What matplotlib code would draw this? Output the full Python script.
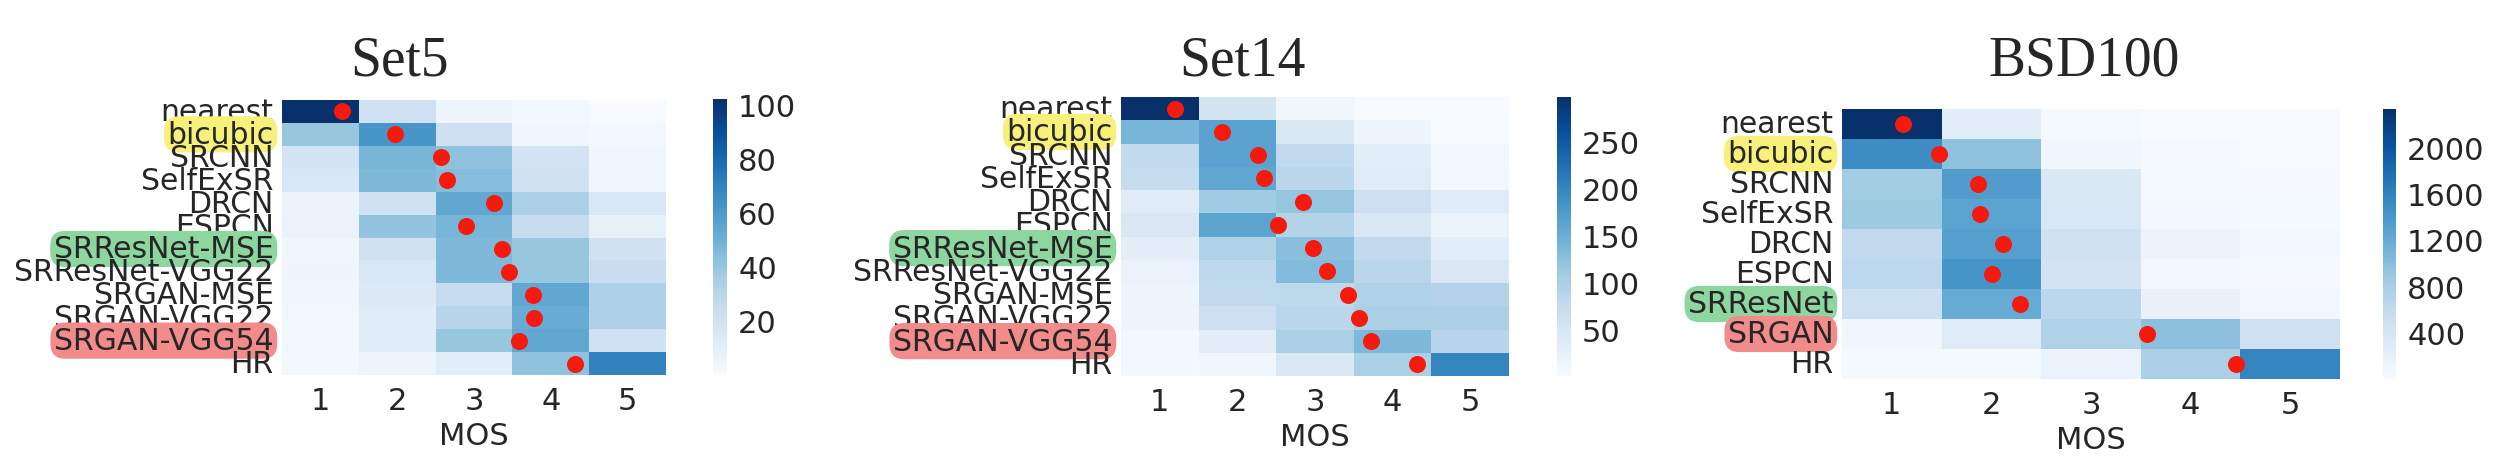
import matplotlib.pyplot as plt
import seaborn as sns
import numpy as np

# rows of the heatmaps (methods) and the MOS columns
methods_set = ['nearest', 'bicubic', 'SRCNN', 'SelfExSR', 'DRCN', 'ESPCN',
               'SRResNet-MSE', 'SRResNet-VGG22', 'SRGAN-MSE', 'SRGAN-VGG22',
               'SRGAN-VGG54', 'HR']
methods_bsd = ['nearest', 'bicubic', 'SRCNN', 'SelfExSR', 'DRCN', 'ESPCN',
               'SRResNet', 'SRGAN', 'HR']
mos_scores = [1, 2, 3, 4, 5]

# number of ratings per score
set5_counts = [
    [102, 21, 5, 2, 0],
    [40, 62, 22, 4, 2],
    [18, 48, 42, 18, 4],
    [16, 46, 44, 20, 4],
    [6, 20, 54, 34, 16],
    [7, 41, 48, 25, 9],
    [4, 20, 46, 40, 20],
    [5, 16, 46, 40, 23],
    [4, 14, 25, 54, 33],
    [3, 12, 30, 52, 33],
    [3, 12, 40, 54, 21],
    [2, 5, 11, 42, 70],
]
set14_counts = [
    [298, 54, 12, 0, 0],
    [140, 165, 45, 14, 0],
    [78, 165, 80, 33, 8],
    [72, 160, 85, 37, 10],
    [36, 110, 118, 65, 35],
    [46, 162, 92, 45, 19],
    [30, 95, 128, 78, 33],
    [20, 82, 132, 86, 44],
    [16, 80, 82, 95, 91],
    [14, 65, 85, 100, 100],
    [8, 32, 100, 135, 89],
    [6, 12, 44, 100, 202],
]
bsd100_counts = [
    [2330, 230, 40, 0, 0],
    [1500, 970, 100, 30, 0],
    [840, 1350, 350, 45, 15],
    [880, 1280, 370, 50, 20],
    [620, 1320, 460, 140, 60],
    [650, 1420, 430, 70, 30],
    [500, 1200, 660, 170, 70],
    [90, 300, 740, 980, 490],
    [40, 40, 160, 780, 1580],
]

# mean opinion scores (red dots)
set5_mos = [1.28, 1.97, 2.57, 2.65, 3.26, 2.89, 3.37, 3.46, 3.77, 3.78, 3.58, 4.32]
set14_mos = [1.20, 1.80, 2.26, 2.34, 2.84, 2.52, 2.98, 3.15, 3.43, 3.57, 3.72, 4.32]
bsd100_mos = [1.11, 1.47, 1.87, 1.89, 2.12, 2.01, 2.29, 3.56, 4.46]

cbar_ticks_set5 = [20, 40, 60, 80, 100]
cbar_ticks_set14 = [50, 100, 150, 200, 250]
cbar_ticks_bsd100 = [400, 800, 1200, 1600, 2000]

highlights = {'bicubic': '#f7f07a', 'SRResNet-MSE': '#8ed6a0',
              'SRResNet': '#8ed6a0', 'SRGAN-VGG54': '#f28b8b',
              'SRGAN': '#f28b8b'}

sns.set_style('white')
plt.rcParams['font.family'] = ['DejaVu Sans']
text_col = '#262626'

W, H = 2504, 464
fig = plt.figure(figsize=(W / 100, H / 100), dpi=100)


def px_rect(x0, y0, x1, y1):
    return [x0 / W, 1 - y1 / H, (x1 - x0) / W, (y1 - y0) / H]


def draw_panel(title, title_x, counts, mos, methods, ticks, ax_px, cb_px):
    ax = fig.add_axes(px_rect(*ax_px))
    cax = fig.add_axes(px_rect(*cb_px))
    data = np.array(counts, dtype=float)
    sns.heatmap(data, ax=ax, cbar_ax=cax, cmap='Blues', vmin=0,
                vmax=data.max(), xticklabels=mos_scores,
                yticklabels=methods, cbar_kws={'ticks': ticks})
    # red dot at the mean score of each row
    ax.scatter(np.array(mos) - 0.5, np.arange(len(methods)) + 0.5,
               s=150, color='#f51a0e', zorder=5, linewidths=0)
    ax.tick_params(length=0, pad=6, labelsize=21.5, colors=text_col)
    ax.tick_params(axis='x', pad=8, labelsize=22)
    ax.set_xlabel('MOS', fontsize=22, color=text_col, labelpad=4)
    for lbl in ax.get_yticklabels():
        lbl.set_rotation(0)
        if lbl.get_text() in highlights:
            lbl.set_bbox(dict(boxstyle='round,pad=0.12,rounding_size=0.5',
                              fc=highlights[lbl.get_text()], ec='none'))
    cax.tick_params(length=0, pad=8, labelsize=22, colors=text_col)
    ax.collections[0].colorbar.outline.set_linewidth(0)
    fig.text(title_x / W, 1 - 75 / H, title, fontsize=40,
             family='Liberation Serif', ha='center', va='baseline')


draw_panel('Set5', 399, set5_counts, set5_mos, methods_set, cbar_ticks_set5,
           (282, 101, 666, 376), (713, 100, 727, 376))
draw_panel('Set14', 1242, set14_counts, set14_mos, methods_set, cbar_ticks_set14,
           (1121, 98, 1509, 377), (1557, 98, 1571, 377))
draw_panel('BSD100', 2084, bsd100_counts, bsd100_mos, methods_bsd, cbar_ticks_bsd100,
           (1842, 110, 2340, 380), (2383, 110, 2396, 380))

fig.savefig('out.png', dpi=100)
